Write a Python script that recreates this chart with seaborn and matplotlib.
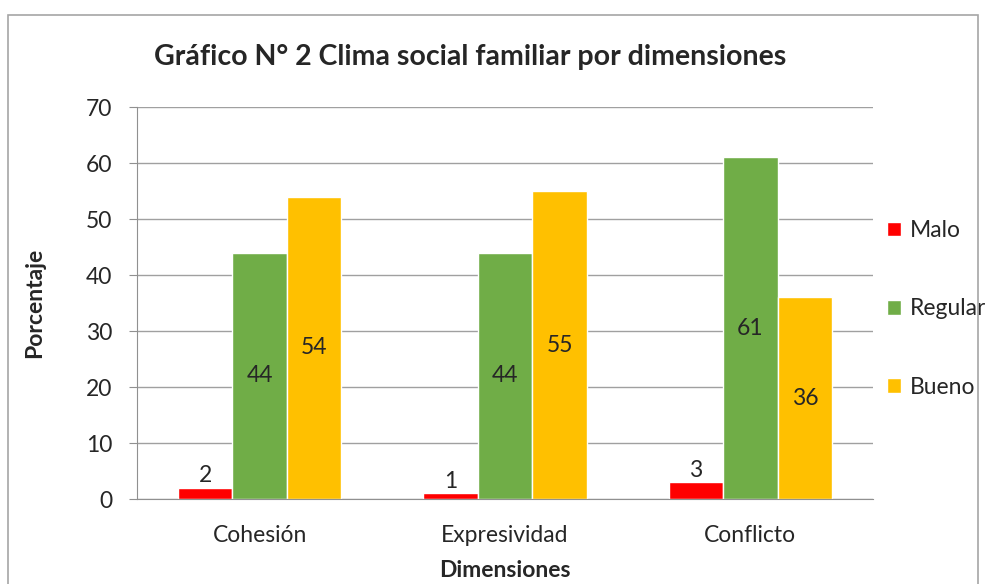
import pandas as pd
import seaborn as sns
from matplotlib import pyplot as plt
from matplotlib.patches import Rectangle

dimensiones = ["Cohesión", "Expresividad", "Conflicto"]
niveles = ["Malo", "Regular", "Bueno"]
malo = [2, 1, 3]
regular = [44, 44, 61]
bueno = [54, 55, 36]
colores = ["#FF0000", "#70AD47", "#FFC000"]

df = pd.DataFrame({
    "dimension": dimensiones * 3,
    "nivel": [n for n in niveles for _ in dimensiones],
    "valor": malo + regular + bueno,
})

sns.set_style("white")
plt.rcParams["font.family"] = ["Lato", "DejaVu Sans"]

fig = plt.figure(figsize=(9.85, 5.84), dpi=100)
ax = fig.add_axes([137 / 985, 85 / 584, 736 / 985, 392 / 584])
fig.patches.append(Rectangle((8 / 985, -0.05), 970 / 985, 1.05 - 15 / 584, transform=fig.transFigure,
                             fill=False, edgecolor="#A6A6A6", linewidth=1.2))

sns.barplot(data=df, x="dimension", y="valor", hue="nivel", hue_order=niveles,
            palette=colores, width=0.667, gap=0, saturation=1, ax=ax)

for i, cont in enumerate(ax.containers):
    if i == 0:
        ax.bar_label(cont, label_type="edge", padding=1, fontsize=16.5)
    else:
        ax.bar_label(cont, label_type="center", fontsize=16.5)

ax.set_ylim(0, 70)
ax.set_xlim(-0.5, 2.5)
ax.set_yticks(range(0, 71, 10))
ax.yaxis.grid(True, color="#A0A0A0", linewidth=1)
ax.set_axisbelow(True)
for s in ["top", "right"]:
    ax.spines[s].set_visible(False)
for s in ["left", "bottom"]:
    ax.spines[s].set_color("#909090")
ax.set_xticks([-0.5, 0.5, 1.5, 2.5], minor=True)
ax.tick_params(axis="x", which="major", length=0, labelsize=16.5, pad=19)
ax.tick_params(axis="x", which="minor", length=6, color="#909090", direction="out")
ax.tick_params(axis="y", length=6, color="#909090", direction="out", labelsize=16.5, left=True, pad=12)
ax.set_xlabel("Dimensiones", fontsize=16.5, fontweight="bold", labelpad=10)
ax.set_ylabel("Porcentaje", fontsize=16.5, fontweight="bold", labelpad=29)

fig.text(470 / 985, 1 - 57 / 584, "Gráfico N° 2 Clima social familiar por dimensiones",
         ha="center", va="center", fontsize=20.5, fontweight="bold")

ax.legend(loc="center left", bbox_to_anchor=(878 / 985, 1 - 309 / 584),
          bbox_transform=fig.transFigure, frameon=False, fontsize=16.5,
          handlelength=0.6, handleheight=0.6, handletextpad=0.4, labelspacing=2.5,
          borderaxespad=0, title=None)

fig.savefig("out.png", dpi=100)
